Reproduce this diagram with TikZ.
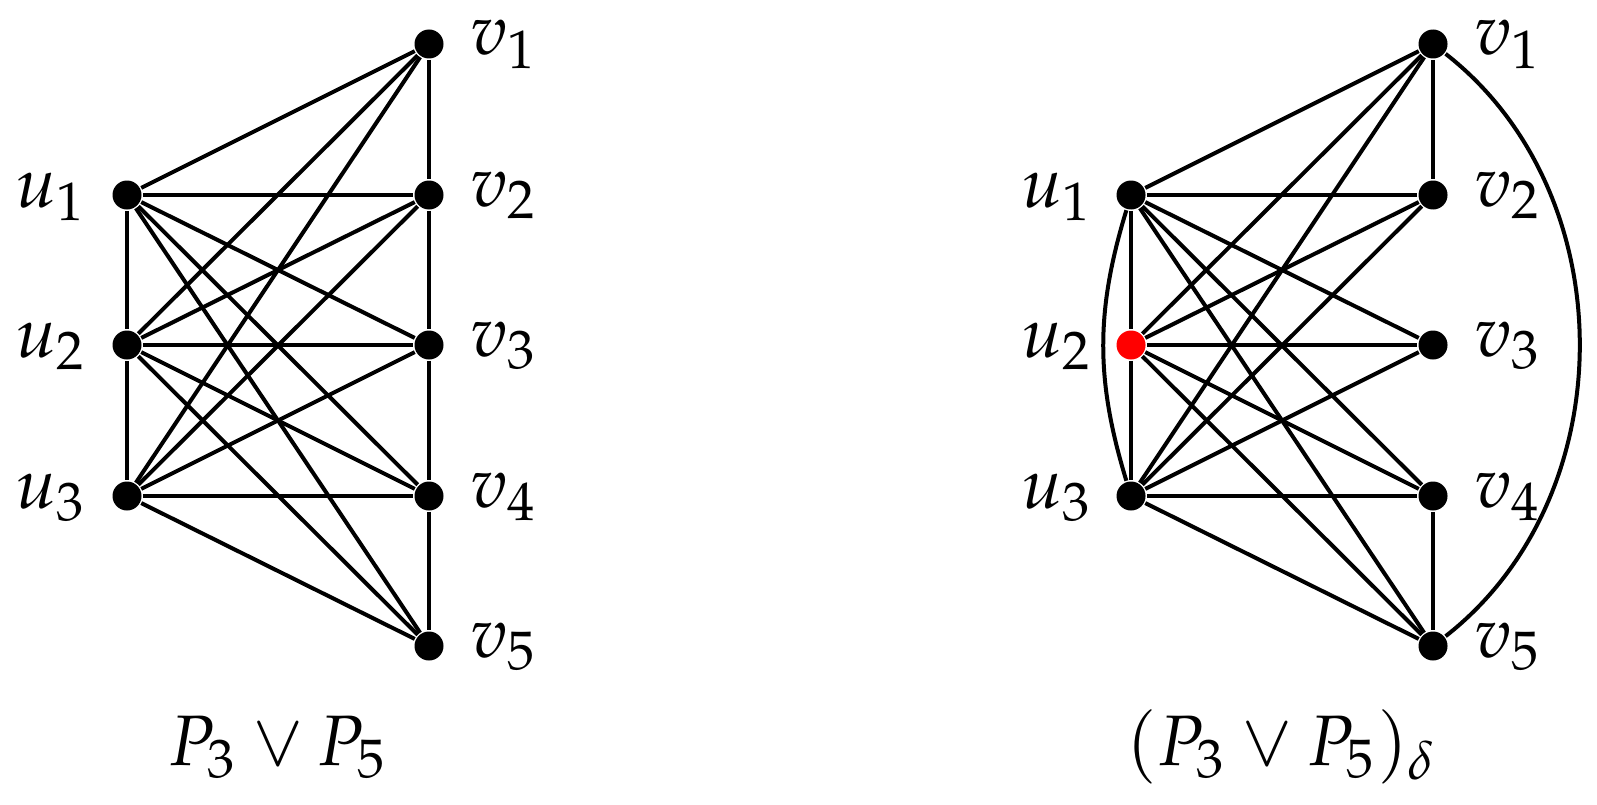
\documentclass[tikz,border=0pt]{standalone}
\usepackage{mathpazo}
\begin{document}
\begin{tikzpicture}[x=0.14pt,y=0.14pt,
  vtx/.style={circle,fill=black,draw=none,inner sep=0pt,minimum size=4.06pt},
  redvtx/.style={vtx,fill=red},
  edge/.style={line width=0.56pt,black},
  lbl/.style={inner sep=0pt,font=\fontsize{10}{12}\selectfont}]
\useasboundingbox (0,0) rectangle (1597,804);
% ---------- left graph ----------
\node[vtx] (Lu1) at (127,609) {};
\node[vtx] (Lu2) at (127,459) {};
\node[vtx] (Lu3) at (127,308) {};
\node[vtx] (Lv1) at (429,760) {};
\node[vtx] (Lv2) at (429,609) {};
\node[vtx] (Lv3) at (429,459) {};
\node[vtx] (Lv4) at (429,308) {};
\node[vtx] (Lv5) at (429,158) {};
\draw[edge] (Lu1) -- (Lu2) -- (Lu3);
\draw[edge] (Lv1) -- (Lv2) -- (Lv3) -- (Lv4) -- (Lv5);
\foreach \i in {1,2,3} {\foreach \j in {1,...,5} {\draw[edge] (Lu\i) -- (Lv\j);}}
\node[lbl,anchor=base east] (Llu1) at (89,597) {$u_1$};
\node[lbl,anchor=base east] (Llu2) at (89,447) {$u_2$};
\node[lbl,anchor=base east] (Llu3) at (89,296) {$u_3$};
\node[lbl,anchor=base west] (Llv1) at (469,749) {$v_1$};
\node[lbl,anchor=base west] (Llv2) at (469,598) {$v_2$};
\node[lbl,anchor=base west] (Llv3) at (469,448) {$v_3$};
\node[lbl,anchor=base west] (Llv4) at (469,297) {$v_4$};
\node[lbl,anchor=base west] (Llv5) at (469,147) {$v_5$};
\node[lbl,anchor=base] (Lcap) at (278,39) {$P_3\vee P_5$};
% ---------- right graph ----------
\node[vtx] (Ru1) at (1131,609) {};
\node[redvtx] (Ru2) at (1131,459) {};
\node[vtx] (Ru3) at (1131,308) {};
\node[vtx] (Rv1) at (1433,760) {};
\node[vtx] (Rv2) at (1433,609) {};
\node[vtx] (Rv3) at (1433,459) {};
\node[vtx] (Rv4) at (1433,308) {};
\node[vtx] (Rv5) at (1433,158) {};
\draw[edge] (Ru1) -- (Ru2) -- (Ru3);
\draw[edge] (Rv1) -- (Rv2);
\draw[edge] (Rv4) -- (Rv5);
\draw[edge] (Ru1) to[bend right=17] (Ru3);
\draw[edge] (Rv1) to[bend left=52] (Rv5);
\foreach \i in {1,2,3} {\foreach \j in {1,...,5} {\draw[edge] (Ru\i) -- (Rv\j);}}
\node[lbl,anchor=base east] (Rlu1) at (1095,597) {$u_1$};
\node[lbl,anchor=base east] (Rlu2) at (1095,447) {$u_2$};
\node[lbl,anchor=base east] (Rlu3) at (1095,296) {$u_3$};
\node[lbl,anchor=base west] (Rlv1) at (1473,749) {$v_1$};
\node[lbl,anchor=base west] (Rlv2) at (1473,598) {$v_2$};
\node[lbl,anchor=base west] (Rlv3) at (1473,448) {$v_3$};
\node[lbl,anchor=base west] (Rlv4) at (1473,297) {$v_4$};
\node[lbl,anchor=base west] (Rlv5) at (1473,147) {$v_5$};
\node[lbl,anchor=base] (Rcap) at (1282,39) {$(P_3\vee P_5)_\delta$};
\end{tikzpicture}
\end{document}
